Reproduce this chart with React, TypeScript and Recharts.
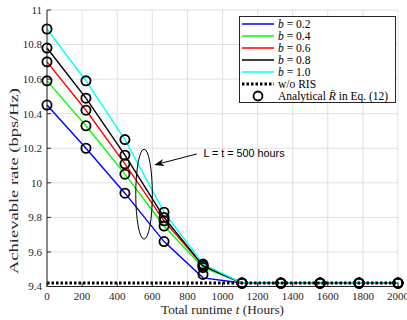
import { CartesianGrid, ComposedChart, Label, Legend, Line, ReferenceDot, ReferenceLine, XAxis, YAxis } from 'recharts'

// runtime grid (hours) shared by every series
const runtime = [0, 222, 444, 667, 889, 1111, 1333, 1556, 1778, 2000]

// simulated achievable rate, one list per b
const simB02 = [10.45, 10.2, 9.94, 9.66, 9.45, 9.42, 9.42, 9.42, 9.42, 9.42]
const simB04 = [10.59, 10.33, 10.05, 9.75, 9.51, 9.42, 9.42, 9.42, 9.42, 9.42]
const simB06 = [10.7, 10.42, 10.11, 9.78, 9.52, 9.42, 9.42, 9.42, 9.42, 9.42]
const simB08 = [10.78, 10.49, 10.16, 9.8, 9.52, 9.42, 9.42, 9.42, 9.42, 9.42]
const simB10 = [10.89, 10.59, 10.25, 9.83, 9.53, 9.42, 9.42, 9.42, 9.42, 9.42]

// analytical markers
const anaB02 = [10.45, 10.2, 9.94, 9.66, 9.47, 9.42, 9.42, 9.42, 9.42, 9.42]
const anaB04 = [10.59, 10.33, 10.05, 9.75, 9.51, 9.42, 9.42, 9.42, 9.42, 9.42]
const anaB06 = [10.7, 10.42, 10.11, 9.78, 9.52, 9.42, 9.42, 9.42, 9.42, 9.42]
const anaB08 = [10.78, 10.49, 10.16, 9.8, 9.52, 9.42, 9.42, 9.42, 9.42, 9.42]
const anaB10 = [10.89, 10.59, 10.25, 9.83, 9.53, 9.42, 9.42, 9.42, 9.42, 9.42]

// baseline without RIS
const woRis = [9.42, 9.42, 9.42, 9.42, 9.42, 9.42, 9.42, 9.42, 9.42, 9.42]

const bLabels = ['0.2', '0.4', '0.6', '0.8', '1.0']
const bColors = ['#0000ff', '#00ff00', '#ff0000', '#000000', '#00ffff']

const xTicks = [0, 200, 400, 600, 800, 1000, 1200, 1400, 1600, 1800, 2000]
const yTicks = [9.4, 9.6, 9.8, 10, 10.2, 10.4, 10.6, 10.8, 11]

// annotation anchors in data units
const ellipseAt = { t: 553, rate: 9.934 }
const arrowFrom = { t: 854, rate: 10.167 }
const arrowTo = { t: 611, rate: 10.103 }
const annotationText = 'L = t = 500 hours'

const sims = [simB02, simB04, simB06, simB08, simB10]
const anas = [anaB02, anaB04, anaB06, anaB08, anaB10]

const data = runtime.map((t, i) => {
  const row: Record<string, number> = { t, wo: woRis[i] }
  sims.forEach((s, k) => (row[`s${k}`] = s[i]))
  anas.forEach((a, k) => (row[`a${k}`] = a[i]))
  return row
})

const SERIF = "'Liberation Serif', 'Times New Roman', serif"
const AXIS = '#262626'

const LegendBox = () => {
  const rowY = (i: number) => 8 + i * 12
  return (
    <svg width={157} height={87} style={{ display: 'block' }}>
      <rect x={0.5} y={0.5} width={156} height={86} fill="#fff" stroke={AXIS} strokeWidth={1} />
      {bLabels.map((b, i) => (
        <g key={b}>
          <line x1={3} x2={35} y1={rowY(i)} y2={rowY(i)} stroke={bColors[i]} strokeWidth={1.5} />
          <text x={39} y={rowY(i)} dy="0.35em" fontFamily={SERIF} fontSize={11.5} fill="#000">
            <tspan fontStyle="italic">b</tspan> = {b}
          </text>
        </g>
      ))}
      <line x1={3} x2={35} y1={rowY(5)} y2={rowY(5)} stroke="#000" strokeWidth={3} strokeDasharray="2.5 2" />
      <text x={39} y={rowY(5)} dy="0.35em" fontFamily={SERIF} fontSize={11.5} fill="#000">
        w/o RIS
      </text>
      <circle cx={19} cy={rowY(6)} r={4.5} fill="none" stroke="#000" strokeWidth={1.8} />
      <text x={39} y={rowY(6)} dy="0.35em" fontFamily={SERIF} fontSize={11.5} fill="#000">
        Analytical <tspan fontStyle="italic">R&#772;</tspan> in Eq. (12)
      </text>
    </svg>
  )
}

const Ellipse = (props: any) => (
  <ellipse cx={props.cx} cy={props.cy} rx={8.3} ry={45} fill="none" stroke="#000" strokeWidth={1} />
)

const Arrow = (props: any) => {
  const { x1, y1, x2, y2 } = props
  const ang = Math.atan2(y2 - y1, x2 - x1)
  const len = 10
  const half = 3.5
  const bx = x2 - len * Math.cos(ang)
  const by = y2 - len * Math.sin(ang)
  const nx = x2 - 7 * Math.cos(ang)
  const ny = y2 - 7 * Math.sin(ang)
  const px = -Math.sin(ang) * half
  const py = Math.cos(ang) * half
  return (
    <g>
      <line x1={x1} y1={y1} x2={nx} y2={ny} stroke="#000" strokeWidth={1} />
      <polygon points={`${x2},${y2} ${bx + px},${by + py} ${nx},${ny} ${bx - px},${by - py}`} fill="#000" />
      <text
        x={x1 + 6.5}
        y={y1 - 0.5}
        dy="0.35em"
        fontFamily="'Liberation Sans', Arial, sans-serif"
        fontSize={10.8}
        fill="#000"
      >
        {annotationText}
      </text>
    </g>
  )
}

export default function App() {
  return (
    <div style={{ position: 'absolute', left: 0, top: 0, width: 407, height: 320, background: '#fff' }}>
      <ComposedChart width={407} height={320} data={data} margin={{ top: 10, right: 9, left: 0, bottom: 0 }}>
        <CartesianGrid stroke="#e0e0e0" strokeWidth={1} />
        <XAxis
          dataKey="t"
          type="number"
          domain={[0, 2000]}
          ticks={xTicks}
          interval={0}
          height={33.5}
          stroke={AXIS}
          tickSize={-4}
          tickMargin={9.5}
          tick={{ fill: AXIS, fontSize: 11, fontFamily: SERIF }}
        >
          <Label
            content={() => (
              <text
                x={222.5}
                y={314}
                textAnchor="middle"
                fontFamily={SERIF}
                fontSize={12.5}
                fill={AXIS}
                textLength={123}
                lengthAdjust="spacingAndGlyphs"
              >
                Total runtime <tspan fontStyle="italic">t</tspan> (Hours)
              </text>
            )}
          />
        </XAxis>
        <XAxis
          xAxisId="top"
          orientation="top"
          type="number"
          domain={[0, 2000]}
          ticks={xTicks}
          interval={0}
          height={0}
          stroke={AXIS}
          tickSize={-4}
          tick={false}
        />
        <YAxis
          type="number"
          domain={[9.4, 11]}
          ticks={yTicks}
          interval={0}
          width={47}
          stroke={AXIS}
          tickSize={-4}
          tickMargin={9}
          tick={{ fill: AXIS, fontSize: 11, fontFamily: SERIF }}
        >
          <Label
            content={() => (
              <text
                x={13}
                y={181}
                transform="rotate(-90 13 181)"
                textAnchor="middle"
                dy="0.35em"
                fontFamily={SERIF}
                fontSize={13.5}
                fill={AXIS}
                textLength={186}
                lengthAdjust="spacingAndGlyphs"
              >
                Achievable rate (bps/Hz)
              </text>
            )}
          />
        </YAxis>
        <YAxis
          yAxisId="right"
          orientation="right"
          type="number"
          domain={[9.4, 11]}
          ticks={yTicks}
          interval={0}
          width={0}
          stroke={AXIS}
          tickSize={-4}
          tick={false}
        />
        {bLabels.map((b, k) => (
          <Line
            key={`s${k}`}
            dataKey={`s${k}`}
            stroke={bColors[k]}
            strokeWidth={1.4}
            dot={false}
            activeDot={false}
            isAnimationActive={false}
          />
        ))}
        <Line
          dataKey="wo"
          stroke="#000"
          strokeWidth={3}
          strokeDasharray="2.5 2"
          dot={false}
          activeDot={false}
          isAnimationActive={false}
        />
        {bLabels.map((b, k) => (
          <Line
            key={`a${k}`}
            dataKey={`a${k}`}
            stroke="none"
            dot={{ r: 4.6, stroke: '#000', strokeWidth: 1.8, fill: 'none' }}
            activeDot={false}
            isAnimationActive={false}
          />
        ))}
        <ReferenceDot x={ellipseAt.t} y={ellipseAt.rate} shape={Ellipse} ifOverflow="visible" />
        <ReferenceLine
          segment={[
            { x: arrowFrom.t, y: arrowFrom.rate },
            { x: arrowTo.t, y: arrowTo.rate },
          ]}
          shape={Arrow}
          ifOverflow="visible"
        />
        <Legend
          layout="vertical"
          align="center"
          verticalAlign="middle"
          wrapperStyle={{ left: 239, top: 16, width: 157, height: 87 }}
          content={() => <LegendBox />}
        />
      </ComposedChart>
    </div>
  )
}
